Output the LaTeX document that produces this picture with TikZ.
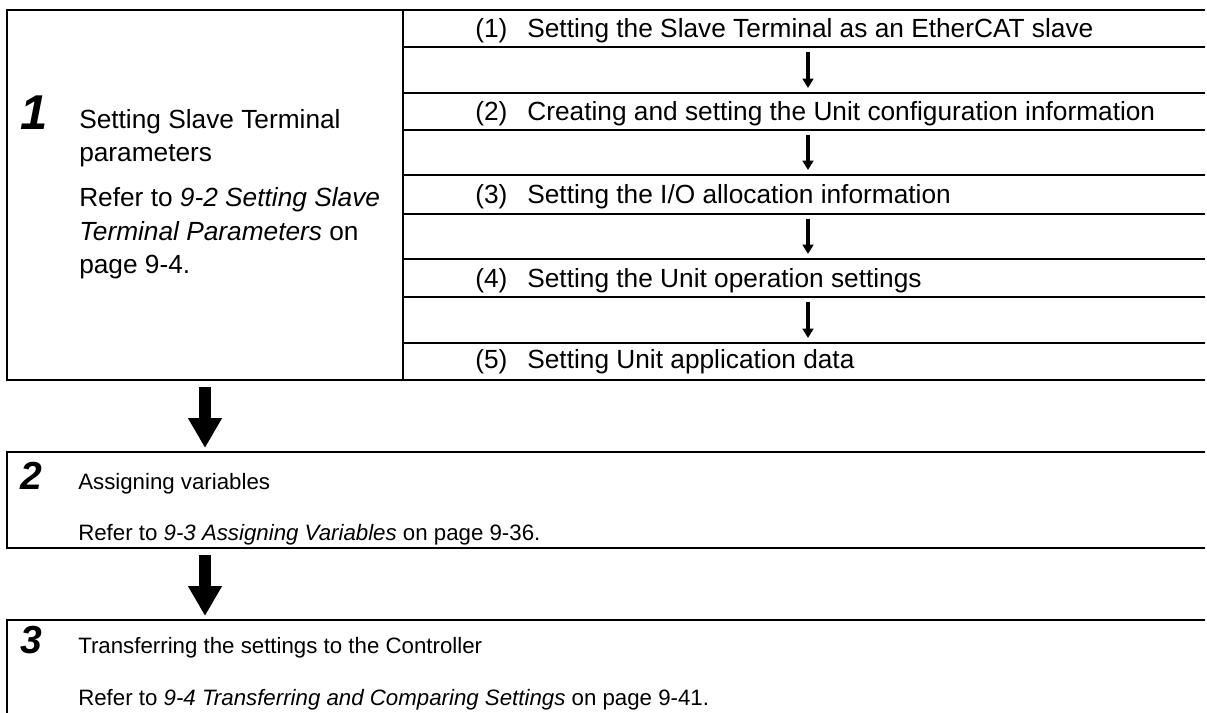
\documentclass[tikz,border=0pt]{standalone}
\usepackage{fontspec}
\setmainfont{Liberation Sans}
\usetikzlibrary{arrows.meta, positioning}

\begin{document}
\begin{tikzpicture}[
    x=0.75pt, y=-0.75pt,
    every node/.style={inner sep=0pt, anchor=base west},
    bigtext/.style={font=\fontsize{19.7}{24}\selectfont},
    smalltext/.style={font=\fontsize{16.7}{20}\selectfont},
    bignum/.style={font=\fontsize{36.7}{40}\selectfont\bfseries\itshape},
    smallnum/.style={font=\fontsize{29.3}{32}\selectfont\bfseries\itshape},
    frame/.style={line width=1.5pt},
    rule/.style={line width=1.1pt},
    bigarrow/.style={-{Triangle[width=24pt, length=22.5pt]}, line width=9pt, shorten <=5.25pt, shorten >=3pt},
    smallarrow/.style={-{Triangle[width=8pt, length=7pt]}, line width=2.3pt, shorten <=3.75pt, shorten >=3.75pt}
]
\useasboundingbox (0,0) rectangle (1207,713);

% Step 1 frame
\draw[frame] (1205,10) -- (7,10) -- (7,380) -- (1205,380);
\draw[rule] (403,10) -- (403,380);
\foreach \y in {47,93,130,175,214,259,297,343}
    \draw[rule] (403,\y) -- (1205,\y);

% Step 1 text
\node[bignum] (num1) at (20,130) {1};
\node[bigtext] (p1a) at (79,129) {Setting Slave Terminal};
\node[bigtext] (p1b) at (79,162) {parameters};
\node[bigtext] (p1c) at (79,207) {Refer to \textit{9-2 Setting Slave}};
\node[bigtext] (p1d) at (79,241) {\textit{Terminal Parameters} on};
\node[bigtext] (p1e) at (79,273) {page 9-4.};

% Sub steps
\node[bigtext] (sub1) at (475,38) {(1)\hspace{15pt}Setting the Slave Terminal as an EtherCAT slave};
\node[bigtext] (sub2) at (475,121) {(2)\hspace{15pt}Creating and setting the Unit configuration information};
\node[bigtext] (sub3) at (475,204) {(3)\hspace{15pt}Setting the I/O allocation information};
\node[bigtext] (sub4) at (475,287) {(4)\hspace{15pt}Setting the Unit operation settings};
\node[bigtext] (sub5) at (475,368) {(5)\hspace{15pt}Setting Unit application data};

\coordinate (sub1-out) at (808,47);  \coordinate (sub2-in) at (808,93);
\coordinate (sub2-out) at (808,130); \coordinate (sub3-in) at (808,175);
\coordinate (sub3-out) at (808,214); \coordinate (sub4-in) at (808,259);
\coordinate (sub4-out) at (808,297); \coordinate (sub5-in) at (808,343);
\foreach \a/\b in {1/2, 2/3, 3/4, 4/5}
    \draw[smallarrow] (sub\a-out) -- (sub\b-in);

% Step 2
\draw[frame] (1205,452) -- (7,452) -- (7,548) -- (1205,548);
\node[smallnum] (num2) at (20,489) {2};
\node[smalltext] (p2a) at (78,489) {Assigning variables};
\node[smalltext] (p2b) at (78,540) {Refer to \textit{9-3 Assigning Variables} on page 9-36.};

% Step 3
\draw[frame] (1205,620) -- (7,620) -- (7,713);
\node[smallnum] (num3) at (20,653) {3};
\node[smalltext] (p3a) at (78,653) {Transferring the settings to the Controller};
\node[smalltext] (p3b) at (78,705) {Refer to \textit{9-4 Transferring and Comparing Settings} on page 9-41.};

% Main flow arrows
\coordinate (box1-out) at (205,380); \coordinate (box2-in) at (205,452);
\coordinate (box2-out) at (205,548); \coordinate (box3-in) at (205,620);
\draw[bigarrow] (box1-out) -- (box2-in);
\draw[bigarrow] (box2-out) -- (box3-in);

\end{tikzpicture}
\end{document}
